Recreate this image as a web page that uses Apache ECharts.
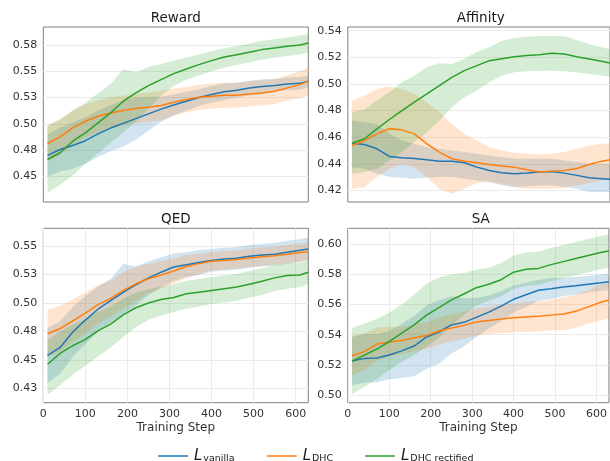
<!DOCTYPE html>
<html><head><meta charset="utf-8">
<script src="https://cdn.jsdelivr.net/npm/echarts@6/dist/echarts.min.js"></script>
<style>html,body{margin:0;padding:0;background:#fff}#c{width:610px;height:461px}</style>
</head><body><div id="c"></div>
<script>
// ---------- data ----------
const steps = [10,40,70,100,130,160,190,220,250,280,310,340,370,400,430,460,490,520,550,580,610,630];
const stepTicks = [0,100,200,300,400,500,600];
const methods = ['vanilla','DHC','DHC rectified'];
const titles = ['Reward','Affinity','QED','SA'];

const rewardTicks = [0.45,0.475,0.5,0.525,0.55,0.575];
const affinityTicks = [0.42,0.44,0.46,0.48,0.50,0.52,0.54];
const qedTicks = [0.425,0.45,0.475,0.5,0.525,0.55];
const saTicks = [0.50,0.52,0.54,0.56,0.58,0.60];

// Reward
const rewardVanilla   = [0.470,0.4756,0.4794,0.4840,0.4905,0.4960,0.5005,0.5050,0.5095,0.5140,0.5180,0.5215,0.5250,0.5280,0.5305,0.5320,0.5340,0.5355,0.5365,0.5380,0.5385,0.5405];
const rewardVanillaLo = [0.450,0.4546,0.4574,0.4620,0.4685,0.4740,0.4785,0.4850,0.4935,0.5020,0.5080,0.5125,0.5170,0.5200,0.5225,0.5250,0.5270,0.5285,0.5305,0.5320,0.5325,0.5345];
const rewardVanillaHi = [0.490,0.4966,0.5014,0.5060,0.5125,0.5180,0.5225,0.5250,0.5255,0.5260,0.5280,0.5305,0.5330,0.5360,0.5385,0.5390,0.5410,0.5425,0.5425,0.5440,0.5445,0.5465];
const rewardDHC       = [0.4813,0.4877,0.4962,0.5025,0.5073,0.5104,0.5127,0.5146,0.5158,0.5174,0.5206,0.5231,0.5253,0.5263,0.5272,0.5272,0.5285,0.5294,0.5310,0.5342,0.5373,0.5405];
const rewardDHCLo     = [0.4643,0.4707,0.4802,0.4865,0.4923,0.4954,0.4987,0.5006,0.5018,0.5034,0.5076,0.5111,0.5133,0.5143,0.5152,0.5152,0.5165,0.5174,0.5190,0.5222,0.5243,0.5275];
const rewardDHCHi     = [0.4983,0.5047,0.5122,0.5185,0.5223,0.5254,0.5267,0.5286,0.5298,0.5314,0.5336,0.5351,0.5373,0.5383,0.5392,0.5392,0.5405,0.5414,0.5430,0.5462,0.5503,0.5535];
const rewardRect      = [0.4661,0.4725,0.4835,0.4915,0.5010,0.5104,0.5215,0.5294,0.5364,0.5421,0.5478,0.5522,0.5563,0.5601,0.5636,0.5658,0.5680,0.5706,0.5722,0.5737,0.5750,0.5769];
const rewardRectLo    = [0.4345,0.4420,0.4510,0.4620,0.4720,0.4820,0.4920,0.5020,0.5140,0.5270,0.5360,0.5420,0.5460,0.5500,0.5535,0.5560,0.5585,0.5610,0.5630,0.5645,0.5660,0.5680];
const rewardRectHi    = [0.4984,0.5040,0.5130,0.5200,0.5290,0.5380,0.5520,0.5490,0.5540,0.5570,0.5600,0.5630,0.5660,0.5690,0.5720,0.5740,0.5765,0.5790,0.5805,0.5820,0.5840,0.5855];

// Affinity
const affVanilla   = [0.4555,0.4545,0.4513,0.4455,0.4445,0.4440,0.4430,0.4420,0.4420,0.4408,0.4375,0.4350,0.4333,0.4325,0.4330,0.4338,0.4343,0.4330,0.4313,0.4295,0.4288,0.4283];
const affVanillaLo = [0.4375,0.4363,0.4325,0.4300,0.4295,0.4288,0.4295,0.4300,0.4300,0.4288,0.4275,0.4263,0.4238,0.4225,0.4230,0.4238,0.4238,0.4225,0.4213,0.4188,0.4188,0.4188];
const affVanillaHi = [0.4725,0.4713,0.4700,0.4625,0.4575,0.4550,0.4525,0.4513,0.4500,0.4488,0.4475,0.4463,0.4450,0.4438,0.4438,0.4438,0.4438,0.4425,0.4413,0.4400,0.4400,0.4400];
const affDHC       = [0.4538,0.4575,0.4625,0.4663,0.4655,0.4625,0.4550,0.4488,0.4438,0.4420,0.4408,0.4395,0.4383,0.4375,0.4355,0.4338,0.4345,0.4350,0.4365,0.4395,0.4420,0.4430];
const affDHCLo     = [0.4213,0.4225,0.4300,0.4363,0.4400,0.4375,0.4300,0.4213,0.4175,0.4213,0.4255,0.4263,0.4250,0.4225,0.4213,0.4213,0.4213,0.4220,0.4238,0.4255,0.4275,0.4288];
const affDHCHi     = [0.4875,0.4913,0.4963,0.4980,0.4963,0.4925,0.4863,0.4788,0.4700,0.4625,0.4575,0.4525,0.4500,0.4483,0.4475,0.4470,0.4475,0.4488,0.4513,0.4538,0.4550,0.4555];
const affRect      = [0.4555,0.4588,0.4663,0.4733,0.4800,0.4863,0.4925,0.4988,0.5050,0.5100,0.5138,0.5175,0.5190,0.5205,0.5213,0.5220,0.5230,0.5225,0.5205,0.5188,0.5170,0.5158];
const affRectLo    = [0.4325,0.4338,0.4363,0.4425,0.4488,0.4563,0.4638,0.4725,0.4825,0.4900,0.4950,0.5013,0.5063,0.5088,0.5095,0.5100,0.5100,0.5095,0.5088,0.5075,0.5063,0.5055];
const affRectHi    = [0.4788,0.4810,0.4875,0.4940,0.5013,0.5063,0.5125,0.5155,0.5150,0.5190,0.5240,0.5275,0.5325,0.5345,0.5355,0.5360,0.5360,0.5358,0.5330,0.5300,0.5275,0.5260];

// QED
const qedVanilla   = [0.454,0.461,0.4745,0.485,0.4945,0.502,0.5092,0.516,0.522,0.527,0.5315,0.5335,0.5355,0.5373,0.5385,0.5392,0.541,0.542,0.5427,0.5445,0.5462,0.5474];
const qedVanillaLo = [0.430,0.438,0.4525,0.464,0.4745,0.483,0.4902,0.498,0.507,0.514,0.5195,0.5225,0.5245,0.5273,0.5285,0.5292,0.531,0.532,0.5327,0.5345,0.5362,0.5374];
const qedVanillaHi = [0.478,0.484,0.4965,0.506,0.5145,0.521,0.5345,0.532,0.5365,0.540,0.5435,0.5445,0.5465,0.5473,0.5485,0.5492,0.551,0.552,0.5527,0.5545,0.5562,0.5574];
const qedDHC       = [0.473,0.4776,0.4843,0.491,0.4985,0.504,0.511,0.5168,0.5212,0.5245,0.528,0.532,0.5345,0.5365,0.5373,0.5382,0.5395,0.5405,0.5415,0.5428,0.5442,0.545];
const qedDHCLo     = [0.452,0.4576,0.4653,0.473,0.4815,0.488,0.495,0.5018,0.5082,0.5125,0.517,0.522,0.5255,0.5285,0.5293,0.5302,0.5315,0.5325,0.5335,0.5348,0.5362,0.537];
const qedDHCHi     = [0.494,0.4976,0.5033,0.509,0.5155,0.520,0.527,0.5318,0.5342,0.5365,0.539,0.542,0.5435,0.5445,0.5453,0.5462,0.5475,0.5485,0.5495,0.5508,0.5522,0.553];
const qedRect      = [0.4462,0.4558,0.4625,0.468,0.4755,0.4815,0.4895,0.4958,0.500,0.503,0.5048,0.508,0.5095,0.511,0.5125,0.514,0.5165,0.519,0.522,0.524,0.5245,0.527];
const qedRectLo    = [0.4195,0.428,0.437,0.445,0.453,0.461,0.470,0.479,0.485,0.489,0.492,0.495,0.497,0.499,0.5005,0.502,0.5045,0.507,0.5105,0.5125,0.514,0.5168];
const qedRectHi    = [0.4675,0.475,0.481,0.486,0.492,0.497,0.504,0.509,0.512,0.5145,0.5165,0.5195,0.521,0.5225,0.524,0.5255,0.528,0.5305,0.533,0.535,0.5355,0.537];

// SA
const saVanilla   = [0.5225,0.5243,0.5245,0.5265,0.5293,0.5325,0.5385,0.5418,0.5465,0.5482,0.5515,0.555,0.559,0.5635,0.5665,0.5695,0.5705,0.5717,0.5725,0.5735,0.5745,0.5752];
const saVanillaLo = [0.5065,0.5083,0.5085,0.5105,0.5113,0.5125,0.5175,0.5208,0.5275,0.5322,0.5385,0.544,0.549,0.5545,0.5585,0.5625,0.5635,0.5657,0.5665,0.568,0.569,0.5697];
const saVanillaHi = [0.5385,0.5403,0.5405,0.5425,0.5473,0.5525,0.5595,0.5628,0.5655,0.5642,0.5645,0.566,0.569,0.5725,0.5745,0.5765,0.5775,0.5777,0.5785,0.579,0.580,0.5807];
const saDHC       = [0.526,0.5288,0.5338,0.5352,0.5362,0.538,0.5395,0.5425,0.5445,0.5462,0.5485,0.5495,0.5505,0.5512,0.5518,0.5522,0.553,0.5538,0.5555,0.5585,0.5615,0.563];
const saDHCLo     = [0.513,0.5168,0.5228,0.5252,0.5272,0.529,0.5305,0.5335,0.5355,0.5372,0.5395,0.5405,0.541,0.5417,0.5418,0.5422,0.543,0.5428,0.5445,0.5475,0.5495,0.551];
const saDHCHi     = [0.539,0.5408,0.5448,0.5452,0.5452,0.547,0.5485,0.5515,0.5535,0.5552,0.5575,0.5585,0.560,0.5607,0.5618,0.5622,0.563,0.5648,0.5665,0.5695,0.5735,0.575];
const saRect      = [0.5225,0.5265,0.5305,0.5355,0.541,0.5465,0.553,0.558,0.5631,0.567,0.5712,0.5735,0.5765,0.5815,0.5835,0.584,0.5865,0.5885,0.5905,0.5925,0.5945,0.5955];
const saRectLo    = [0.5005,0.5055,0.5105,0.5165,0.522,0.5265,0.532,0.538,0.5461,0.553,0.5592,0.5625,0.5655,0.5705,0.5725,0.573,0.5755,0.5775,0.5795,0.5815,0.5835,0.5845];
const saRectHi    = [0.5445,0.5475,0.5505,0.5545,0.560,0.5665,0.574,0.578,0.5801,0.581,0.5832,0.5845,0.5875,0.5925,0.5945,0.595,0.5975,0.5995,0.6015,0.6035,0.6055,0.6065];

// ---------- layout / style ----------
const colors = ['#1f77b4','#ff7f0e','#2ca02c'];
const bandColors = ['rgba(31,119,180,0.2)','rgba(255,127,14,0.2)','rgba(44,160,44,0.2)'];
const FONT = '"DejaVu Sans", Verdana, sans-serif';
const panelData = [
  {mean:[rewardVanilla,rewardDHC,rewardRect], lo:[rewardVanillaLo,rewardDHCLo,rewardRectLo], hi:[rewardVanillaHi,rewardDHCHi,rewardRectHi], ticks:rewardTicks},
  {mean:[affVanilla,affDHC,affRect], lo:[affVanillaLo,affDHCLo,affRectLo], hi:[affVanillaHi,affDHCHi,affRectHi], ticks:affinityTicks},
  {mean:[qedVanilla,qedDHC,qedRect], lo:[qedVanillaLo,qedDHCLo,qedRectLo], hi:[qedVanillaHi,qedDHCHi,qedRectHi], ticks:qedTicks},
  {mean:[saVanilla,saDHC,saRect], lo:[saVanillaLo,saDHCLo,saRectLo], hi:[saVanillaHi,saDHCHi,saRectHi], ticks:saTicks}
];
const layout = [
  {left:43.3, top:27, width:265, height:175, ymin:0.4257, ymax:0.5921, bottom:false},
  {left:347.8, top:27, width:265.9, height:175, ymin:0.4113, ymax:0.5428, bottom:false},
  {left:43.3, top:228.3, width:265, height:174.4, ymin:0.4125, ymax:0.5655, bottom:true},
  {left:347.8, top:228.3, width:265.9, height:174.4, ymin:0.4949, ymax:0.6106, bottom:true}
];
const fmt = v => (Math.round(v * 100 + 1e-6) / 100).toFixed(2);

const grids = [], xAxes = [], yAxes = [], series = [], graphics = [];
layout.forEach((L, i) => {
  grids.push({left:L.left, top:L.top, width:L.width, height:L.height, show:true, borderColor:'#808080', borderWidth:1, containLabel:false});
  xAxes.push({
    type:'value', gridIndex:i, min:0, max:630,
    axisLine:{show:false}, axisTick:{show:false, customValues:stepTicks},
    axisLabel:{show:L.bottom, customValues:stepTicks, fontSize:11, color:'#333', fontFamily:FONT, margin:6},
    splitLine:{show:L.bottom, lineStyle:{color:'#ebebeb', width:1}},
    name: L.bottom ? 'Training Step' : '', nameLocation:'middle', nameGap:19,
    nameTextStyle:{fontSize:12, color:'#333', fontFamily:FONT}
  });
  yAxes.push({
    type:'value', gridIndex:i, min:L.ymin, max:L.ymax,
    axisLine:{show:false}, axisTick:{show:false, customValues:panelData[i].ticks},
    axisLabel:{customValues:panelData[i].ticks, formatter:fmt, fontSize:11, color:'#333', fontFamily:FONT, margin:6},
    splitLine:{show:true, lineStyle:{color:'#ebebeb', width:1}}
  });
  const P = panelData[i];
  for (let k = 0; k < 3; k++) {
    const lo = P.lo[k], hi = P.hi[k];
    series.push({
      type:'custom', xAxisIndex:i, yAxisIndex:i, silent:true, z:1, clip:true,
      encode:{x:0, y:[1,2]},
      data: steps.map((s, j) => [s, lo[j], hi[j]]),
      renderItem: (params, api) => {
        if (params.dataIndex !== 0) return null;
        const pts = [];
        for (let j = 0; j < steps.length; j++) pts.push(api.coord([steps[j], hi[j]]));
        for (let j = steps.length - 1; j >= 0; j--) pts.push(api.coord([steps[j], lo[j]]));
        return {type:'polygon', shape:{points:pts}, style:{fill:bandColors[k], stroke:null}};
      }
    });
  }
  for (let k = 0; k < 3; k++) {
    series.push({type:'line', name:methods[k], xAxisIndex:i, yAxisIndex:i, symbol:'none', z:3,
      color:colors[k], lineStyle:{color:colors[k], width:1.5},
      data: steps.map((s, j) => [s, P.mean[k][j]])});
  }
  graphics.push({type:'text', x: L.left + L.width / 2, y: L.top - 9,
    style:{text:titles[i], font:'13.5px ' + FONT, fill:'#1a1a1a', align:'center', verticalAlign:'middle', textAlign:'center', textVerticalAlign:'middle'}});
});

const legendLefts = [153, 261.7, 360];
const legends = methods.map((m, k) => ({
  data:[m], left:legendLefts[k], top:440, icon:'rect', itemWidth:30, itemHeight:1.5, itemGap:0,
  selectedMode:false,
  formatter: n => '{L|L}{s|' + n + '}',
  textStyle:{rich:{
    L:{fontSize:15, fontStyle:'italic', fontFamily:FONT, color:'#1a1a1a', padding:[0,1,0,1], lineHeight:16, verticalAlign:'middle'},
    s:{fontSize:9.5, fontFamily:FONT, color:'#1a1a1a', lineHeight:16, verticalAlign:'bottom', padding:[9,0,0,0]}
  }}
}));

const chart = echarts.init(document.getElementById('c'), null, {renderer:'canvas'});
chart.setOption({
  animation:false,
  backgroundColor:'#fff',
  grid:grids, xAxis:xAxes, yAxis:yAxes, series, legend:legends, graphic:graphics
});
</script></body></html>
